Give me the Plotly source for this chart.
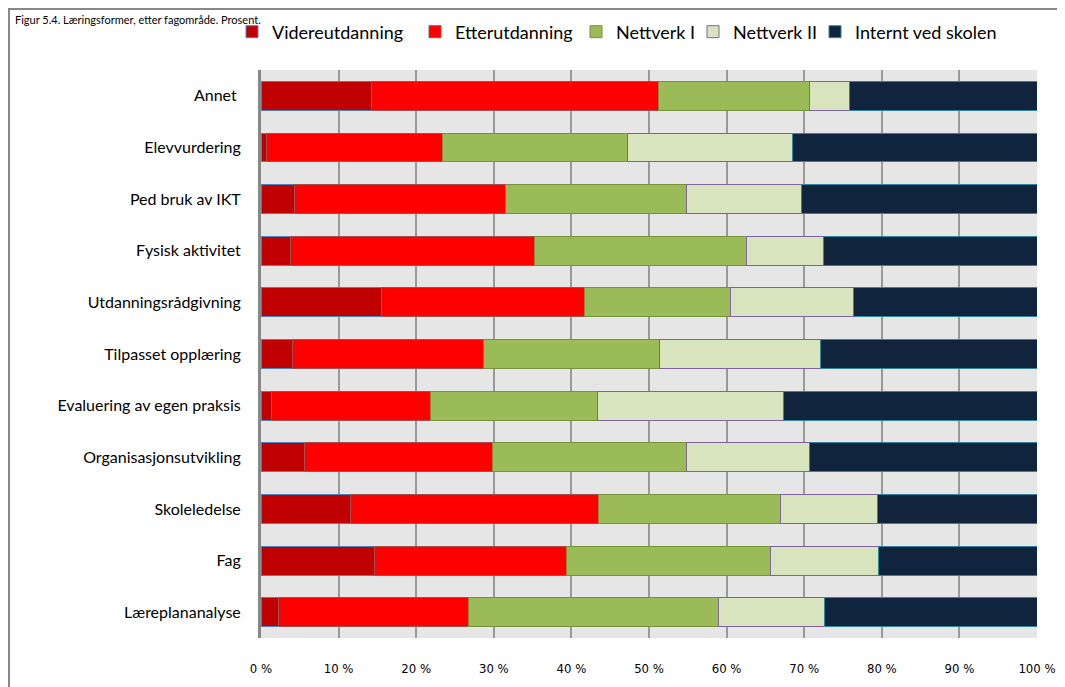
import plotly.graph_objects as go

categories = ["Annet ", "Elevvurdering", "Ped bruk av IKT", "Fysisk aktivitet",
              "Utdanningsrådgivning", "Tilpasset opplæring", "Evaluering av egen praksis",
              "Organisasjonsutvikling", "Skoleledelse", "Fag", "Læreplananalyse"]

videreutdanning = [14.3, 0.7, 4.3, 3.8, 15.5, 4.0, 1.3, 5.6, 11.5, 14.6, 2.2]
etterutdanning = [36.9, 22.7, 27.2, 31.4, 26.2, 24.7, 20.5, 24.2, 32.0, 24.8, 24.6]
nettverk_1 = [19.5, 23.8, 23.3, 27.4, 18.8, 22.7, 21.6, 25.0, 23.4, 26.3, 32.2]
nettverk_2 = [5.1, 21.3, 14.9, 9.9, 15.9, 20.7, 23.9, 15.9, 12.6, 13.9, 13.6]
internt = [24.2, 31.5, 30.3, 27.5, 23.6, 27.9, 32.7, 29.3, 20.5, 20.4, 27.4]

series_names = ["Videreutdanning", "Etterutdanning", "Nettverk I", "Nettverk II", "Internt ved skolen"]
series_values = [videreutdanning, etterutdanning, nettverk_1, nettverk_2, internt]
fill_colors = ["#c00000", "#ff0000", "#9bbb59", "#d7e4bd", "#10243e"]
line_colors = ["#4f81bd", "#a05050", "#77933c", "#8064a2", "#31859c"]

tick_vals = [0, 10, 20, 30, 40, 50, 60, 70, 80, 90, 100]
tick_text = ["0 %", "10 %", "20 %", "30 %", "40 %", "50 %", "60 %", "70 %", "80 %", "90 %", "100 %"]

# page body has an 8px margin, so the figure is drawn from window (8, 8)
OFF = 8
W, H = 1065 - OFF, 687 - OFF
L, R, T, B = 261 - OFF, 28, 70 - OFF, 49
pw, ph = W - L - R, H - T - B

# legend text start positions (window px)
legend_text_x = [269, 452, 613, 730, 852]

fig = go.Figure()
for i, (name, vals) in enumerate(zip(series_names, series_values)):
    lg = "legend" if i == 0 else f"legend{i+1}"
    fig.add_trace(go.Bar(
        y=categories, x=vals, name=name, orientation="h",
        marker=dict(color=fill_colors[i], line=dict(color=line_colors[i], width=1)),
        legend=lg,
    ))

font_family = "Lato, Open Sans, sans-serif"
layout_legends = {}
for i in range(5):
    key = "legend" if i == 0 else f"legend{i+1}"
    left_fig = legend_text_x[i] + 3 - OFF - 40
    layout_legends[key] = dict(
        xref="container", yref="container",
        x=left_fig / W, xanchor="left",
        y=1 - (32 - OFF) / H, yanchor="middle",
        bgcolor="rgba(0,0,0,0)", borderwidth=0,
        font=dict(family=font_family, size=18, color="#000000"),
        orientation="h",
    )

fig.update_layout(
    width=W, height=H,
    margin=dict(l=L, r=R, t=T, b=B, pad=0, autoexpand=False),
    barmode="stack", bargap=0.44,
    paper_bgcolor="white", plot_bgcolor="#e6e6e6",
    font=dict(family=font_family, size=16, color="#000000"),
    xaxis=dict(range=[0, 100], tickvals=tick_vals, ticktext=tick_text,
               showgrid=True, gridcolor="#999999", gridwidth=2,
               zeroline=False, showline=False, ticks="outside", ticklen=18,
               tickcolor="rgba(0,0,0,0)",
               tickfont=dict(family="DejaVu Sans Condensed, Liberation Sans Narrow, sans-serif", size=13)),
    yaxis=dict(autorange="reversed", showgrid=False, showline=True, linecolor="#888888",
               linewidth=3, ticks="outside", ticklen=14, tickcolor="rgba(0,0,0,0)",
               tickfont=dict(family=font_family, size=16)),
    showlegend=True,
    **layout_legends,
)

# outer chart frame
fig.add_shape(type="rect", xref="paper", yref="paper",
              x0=(1 - L) / pw, x1=(W + 20 - L) / pw,
              y0=(H - B - (H + 20)) / ph, y1=(H - B - 1) / ph,
              line=dict(color="#888888", width=2), fillcolor="rgba(0,0,0,0)", layer="below")

# title
fig.add_annotation(text="Figur 5.4. Læringsformer, etter fagområde. Prosent.",
                   xref="paper", yref="paper", x=(5 - L) / pw, xanchor="left",
                   y=(H - B - 3) / ph, yanchor="top", showarrow=False,
                   font=dict(family=font_family, size=11, color="#000000"))

fig.write_html("out.html")
